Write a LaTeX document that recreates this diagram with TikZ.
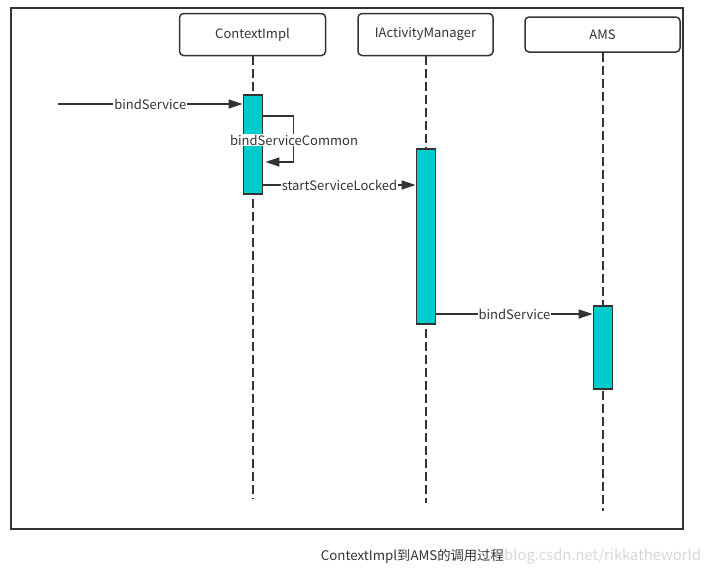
\documentclass[tikz,border=0pt]{standalone}
\usepackage{fontspec}
\setmainfont{Noto Sans CJK SC}
\usetikzlibrary{arrows.meta, calc}

\definecolor{linec}{HTML}{333333}
\definecolor{barc}{HTML}{00CCCC}
\definecolor{markc}{HTML}{D8D8D8}

\tikzset{
    actor/.style={draw=linec, line width=1.5pt, rounded corners=4pt, fill=white, text=linec, font=\fontsize{13}{15}\selectfont},
    actbar/.style={draw=linec, line width=1.8pt, fill=barc, minimum width=19pt, inner sep=0pt},
    life/.style={draw=linec, line width=2pt, dash pattern=on 9pt off 4pt},
    msg/.style={draw=linec, line width=1.6pt, -{Triangle[length=14pt,width=9pt]}},
    lbl/.style={fill=white, text=linec, inner sep=1pt, font=\fontsize{13}{15}\selectfont}
}

\begin{document}
\begin{tikzpicture}[x=1pt, y=-1pt]
        \useasboundingbox (0,0) rectangle (705,574);
        \draw[linec, line width=2pt] (11,8) rectangle (683,529);

        % heads
        \node[actor, minimum width=146pt, minimum height=42pt] (ctx) at (252.5,34.5) {ContextImpl};
        \node[actor, minimum width=135pt, minimum height=42pt] (iam) at (425.5,34.5) {IActivityManager};
        \node[actor, minimum width=155pt, minimum height=35pt] (ams) at (602.5,34.5) {AMS};

        % lifelines
        \coordinate (ctxend) at (253,499);
        \coordinate (iamend) at (426,503);
        \coordinate (amsend) at (603,511);
        \draw[life] (ctx.south -| ctxend) -- (ctxend);
        \draw[life] (iam.south -| iamend) -- (iamend);
        \draw[life] (ams.south -| amsend) -- (amsend);

        % activations
        \node[actbar, minimum height=99pt] (bar1) at (253,144.5) {};
        \node[actbar, minimum height=175pt] (bar2) at (426,236.5) {};
        \node[actbar, minimum height=83pt] (bar3) at (603,347.5) {};

        % messages
        \coordinate (caller) at (58,104);
        \draw[msg] (caller) -- (bar1.west |- caller) node[lbl, midway] {bindService};

        \coordinate (loopout) at (0,116);
        \coordinate (loopin) at (0,162);
        \draw[msg] (bar1.east |- loopout) -- ++(30,0) |- ($(bar1.east |- loopin)+(2,0)$);
        \node[lbl] (loopname) at (294,140) {bindServiceCommon};

        \coordinate (call2) at (0,185);
        \draw[msg] (bar1.east |- call2) -- (bar2.west |- call2) node[lbl, midway] {startServiceLocked};

        \coordinate (call3) at (0,314);
        \draw[msg] (bar2.east |- call3) -- (bar3.west |- call3) node[lbl, midway] {bindService};

        % caption
        \node[anchor=west, inner sep=0pt, text=markc, font=\fontsize{14.8}{16}\selectfont] (mark) at (504,556) {blog.csdn.net/rikkatheworld};
        \node[anchor=east, inner sep=0pt, text=linec, font=\fontsize{13.3}{15}\selectfont] (caption) at (mark.west) {ContextImpl到AMS的调用过程};

    \end{tikzpicture}
\end{document}
